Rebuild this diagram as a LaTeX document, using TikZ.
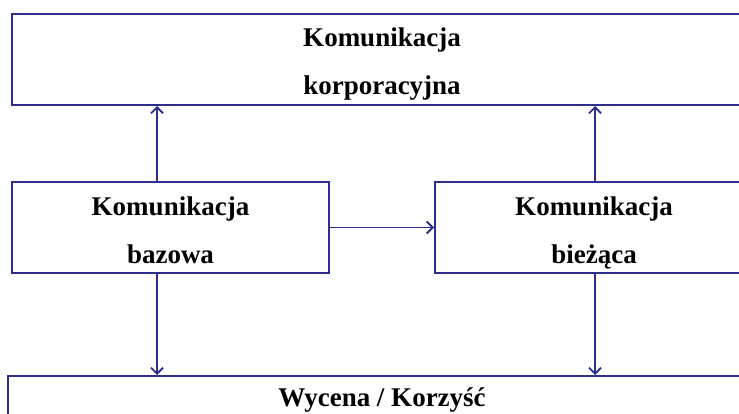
\documentclass[tikz,border=0pt]{standalone}
\usepackage{fontspec}
\setmainfont{Liberation Serif}
\usetikzlibrary{arrows.meta}
\definecolor{frame}{RGB}{46,46,140}
\begin{document}
\begin{tikzpicture}[x=1pt,y=-1pt,
  box/.style={draw=frame, line width=2pt, rectangle, inner sep=0pt},
  label/.style={inner sep=0pt, align=center,
    font=\fontsize{27}{48}\bfseries\selectfont},
  arr/.style={draw=frame, line width=1.8pt, -{Straight Barb[length=6pt,width=12pt]}}]
\useasboundingbox (0,0) rectangle (739,414);
\clip (0,0) rectangle (739,414);
% boxes
\node[box, minimum width=740pt, minimum height=91pt] (top) at (382,59.5) {};
\node[box, minimum width=317pt, minimum height=91pt] (base) at (170.5,227.5) {};
\node[box, minimum width=318pt, minimum height=91pt] (curr) at (594,227.5) {};
\node[box, minimum width=748pt, minimum height=91pt] (val) at (382,421.5) {};
% box texts (struts keep the two-line blocks equally placed)
\node[label] (toptxt) at ([yshift=-1pt]top.center) {\strut Komunikacja\\korporacyjna\strut};
\node[label] (basetxt) at ([yshift=-2pt]base.center) {\strut Komunikacja\\bazowa\strut};
\node[label] (currtxt) at ([yshift=-2pt]curr.center) {\strut Komunikacja\\bieżąca\strut};
\node[label, anchor=base] (valtxt) at (382,406) {Wycena / Korzyść};
% arrow columns
\coordinate (xl) at (157,0);
\coordinate (xr) at (595,0);
% connectors
\draw[arr] (xl |- base.north) -- (xl |- top.south);
\draw[arr] (xr |- curr.north) -- (xr |- top.south);
\draw[arr] (base.east) -- (curr.west);
\draw[arr] (xl |- base.south) -- (xl |- val.north);
\draw[arr] (xr |- curr.south) -- (xr |- val.north);
\end{tikzpicture}
\end{document}
